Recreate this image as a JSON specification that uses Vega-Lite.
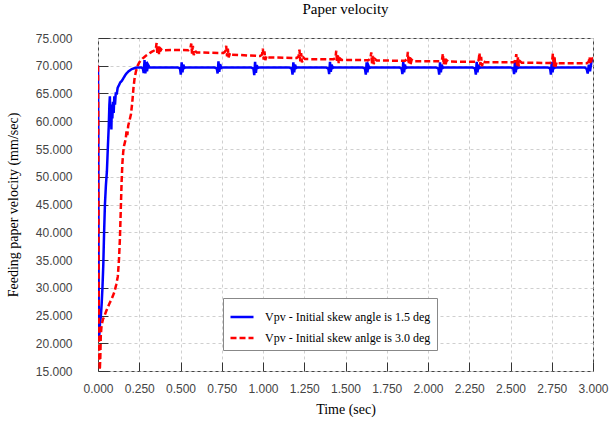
{
  "$schema": "https://vega.github.io/schema/vega-lite/v6.json",
  "width": 495,
  "height": 333,
  "autosize": {"type": "none"},
  "padding": {"left": 98, "top": 38, "right": 19, "bottom": 50},
  "background": "white",
  "title": {"text": "Paper velocity", "font": "Liberation Serif", "fontSize": 15, "fontWeight": "normal", "color": "black", "offset": 15},
  "config": {
    "view": {"stroke": "#444444", "strokeWidth": 1},
    "axis": {
      "domain": false,
      "grid": true,
      "gridColor": "#cfcfcf",
      "gridDash": [3, 3],
      "gridWidth": 1,
      "tickColor": "#333333",
      "tickWidth": 1,
      "labelFont": "Liberation Sans",
      "labelFontSize": 12,
      "labelColor": "#444444",
      "titleFont": "Liberation Serif",
      "titleFontSize": 14,
      "titleFontWeight": "normal",
      "titleColor": "black"
    },
    "legend": {
      "orient": "none",
      "legendX": 125,
      "legendY": 260,
      "fillColor": "white",
      "strokeColor": "#888888",
      "padding": 6,
      "rowPadding": 2,
      "symbolType": "stroke",
      "symbolSize": 529,
      "symbolStrokeWidth": 2.5,
      "labelFont": "Liberation Serif",
      "labelFontSize": 12,
      "labelColor": "black",
      "labelOffset": 10,
      "labelLimit": 0
    }
  },
  "data": {"values": [
    {"s":"a","t":0,"v":70},{"s":"a","t":0.002,"v":58},{"s":"a","t":0.003,"v":40},{"s":"a","t":0.005,"v":20.5},{"s":"a","t":0.008,"v":21.5},{"s":"a","t":0.012,"v":23.5},{"s":"a","t":0.017,"v":24.8},{"s":"a","t":0.022,"v":27},{"s":"a","t":0.027,"v":30},{"s":"a","t":0.032,"v":34},{"s":"a","t":0.037,"v":40},{"s":"a","t":0.042,"v":45},{"s":"a","t":0.048,"v":48.5},{"s":"a","t":0.054,"v":51},{"s":"a","t":0.06,"v":55.5},{"s":"a","t":0.065,"v":59},{"s":"a","t":0.069,"v":63},{"s":"a","t":0.072,"v":64.5},{"s":"a","t":0.075,"v":60},{"s":"a","t":0.078,"v":62.5},{"s":"a","t":0.081,"v":58.5},{"s":"a","t":0.084,"v":63},{"s":"a","t":0.087,"v":60.5},{"s":"a","t":0.091,"v":63.5},{"s":"a","t":0.095,"v":61.5},{"s":"a","t":0.099,"v":64.5},{"s":"a","t":0.103,"v":63},{"s":"a","t":0.108,"v":65.2},{"s":"a","t":0.113,"v":64.8},{"s":"a","t":0.119,"v":66},{"s":"a","t":0.127,"v":66.5},{"s":"a","t":0.135,"v":67},{"s":"a","t":0.145,"v":67.3},{"s":"a","t":0.155,"v":67.8},{"s":"a","t":0.165,"v":68.3},{"s":"a","t":0.175,"v":68.7},{"s":"a","t":0.185,"v":69.0},{"s":"a","t":0.195,"v":69.2},{"s":"a","t":0.205,"v":69.4},{"s":"a","t":0.215,"v":69.5},{"s":"a","t":0.23,"v":69.65},{"s":"a","t":0.25,"v":69.7},
    {"s":"a","t":0.262,"v":69.7},{"s":"a","t":0.272,"v":69.5},{"s":"a","t":0.277,"v":68.7},{"s":"a","t":0.282,"v":71.0},{"s":"a","t":0.287,"v":68.6},{"s":"a","t":0.292,"v":70.7},{"s":"a","t":0.297,"v":69.0},{"s":"a","t":0.303,"v":70.2},{"s":"a","t":0.312,"v":69.7},
    {"s":"a","t":0.482,"v":69.7},{"s":"a","t":0.497,"v":69.5},{"s":"a","t":0.502,"v":68.4},{"s":"a","t":0.507,"v":70.6},{"s":"a","t":0.512,"v":68.8},{"s":"a","t":0.517,"v":70.2},{"s":"a","t":0.524,"v":69.6},{"s":"a","t":0.532,"v":69.7},
    {"s":"a","t":0.705,"v":69.7},{"s":"a","t":0.72,"v":69.5},{"s":"a","t":0.725,"v":68.6},{"s":"a","t":0.73,"v":70.8},{"s":"a","t":0.735,"v":68.9},{"s":"a","t":0.74,"v":70.3},{"s":"a","t":0.747,"v":69.6},{"s":"a","t":0.755,"v":69.7},
    {"s":"a","t":0.927,"v":69.7},{"s":"a","t":0.942,"v":69.5},{"s":"a","t":0.947,"v":68.3},{"s":"a","t":0.952,"v":70.7},{"s":"a","t":0.957,"v":68.7},{"s":"a","t":0.962,"v":70.1},{"s":"a","t":0.969,"v":69.6},{"s":"a","t":0.977,"v":69.7},
    {"s":"a","t":1.159,"v":69.7},{"s":"a","t":1.174,"v":69.5},{"s":"a","t":1.179,"v":68.4},{"s":"a","t":1.184,"v":70.6},{"s":"a","t":1.189,"v":68.8},{"s":"a","t":1.194,"v":70.2},{"s":"a","t":1.201,"v":69.6},{"s":"a","t":1.209,"v":69.7},
    {"s":"a","t":1.381,"v":69.7},{"s":"a","t":1.396,"v":69.5},{"s":"a","t":1.401,"v":68.5},{"s":"a","t":1.406,"v":70.7},{"s":"a","t":1.411,"v":68.9},{"s":"a","t":1.416,"v":70.2},{"s":"a","t":1.423,"v":69.6},{"s":"a","t":1.431,"v":69.7},
    {"s":"a","t":1.603,"v":69.7},{"s":"a","t":1.618,"v":69.5},{"s":"a","t":1.623,"v":68.4},{"s":"a","t":1.628,"v":70.6},{"s":"a","t":1.633,"v":68.8},{"s":"a","t":1.638,"v":70.1},{"s":"a","t":1.645,"v":69.6},{"s":"a","t":1.653,"v":69.7},
    {"s":"a","t":1.825,"v":69.7},{"s":"a","t":1.84,"v":69.5},{"s":"a","t":1.845,"v":68.5},{"s":"a","t":1.85,"v":70.7},{"s":"a","t":1.855,"v":68.8},{"s":"a","t":1.86,"v":70.2},{"s":"a","t":1.867,"v":69.6},{"s":"a","t":1.875,"v":69.7},
    {"s":"a","t":2.048,"v":69.7},{"s":"a","t":2.063,"v":69.5},{"s":"a","t":2.068,"v":68.4},{"s":"a","t":2.073,"v":70.6},{"s":"a","t":2.078,"v":68.8},{"s":"a","t":2.083,"v":70.2},{"s":"a","t":2.09,"v":69.6},{"s":"a","t":2.098,"v":69.7},
    {"s":"a","t":2.27,"v":69.7},{"s":"a","t":2.285,"v":69.5},{"s":"a","t":2.29,"v":68.4},{"s":"a","t":2.295,"v":70.7},{"s":"a","t":2.3,"v":68.8},{"s":"a","t":2.305,"v":70.2},{"s":"a","t":2.312,"v":69.6},{"s":"a","t":2.32,"v":69.7},
    {"s":"a","t":2.502,"v":69.7},{"s":"a","t":2.517,"v":69.5},{"s":"a","t":2.522,"v":68.5},{"s":"a","t":2.527,"v":70.8},{"s":"a","t":2.532,"v":68.8},{"s":"a","t":2.537,"v":70.2},{"s":"a","t":2.544,"v":69.6},{"s":"a","t":2.552,"v":69.7},
    {"s":"a","t":2.725,"v":69.7},{"s":"a","t":2.74,"v":69.5},{"s":"a","t":2.745,"v":68.4},{"s":"a","t":2.75,"v":70.7},{"s":"a","t":2.755,"v":68.8},{"s":"a","t":2.76,"v":70.2},{"s":"a","t":2.767,"v":69.6},{"s":"a","t":2.775,"v":69.7},
    {"s":"a","t":2.95,"v":69.7},{"s":"a","t":2.962,"v":69.4},{"s":"a","t":2.968,"v":68.6},{"s":"a","t":2.975,"v":70.2},{"s":"a","t":2.982,"v":69.0},{"s":"a","t":2.991,"v":70.8},{"s":"a","t":3.0,"v":71.2},
    {"s":"b","t":0,"v":70},{"s":"b","t":0.002,"v":50},{"s":"b","t":0.004,"v":30},{"s":"b","t":0.006,"v":21},{"s":"b","t":0.008,"v":17},{"s":"b","t":0.011,"v":15.2},{"s":"b","t":0.014,"v":17.5},{"s":"b","t":0.017,"v":21.5},{"s":"b","t":0.022,"v":23.3},{"s":"b","t":0.03,"v":24.3},{"s":"b","t":0.04,"v":25},{"s":"b","t":0.05,"v":25.8},{"s":"b","t":0.06,"v":26.5},{"s":"b","t":0.07,"v":27.2},{"s":"b","t":0.08,"v":27.8},{"s":"b","t":0.09,"v":28.5},{"s":"b","t":0.1,"v":29.3},{"s":"b","t":0.11,"v":30.5},{"s":"b","t":0.12,"v":32},{"s":"b","t":0.127,"v":35},{"s":"b","t":0.133,"v":39},{"s":"b","t":0.138,"v":44},{"s":"b","t":0.143,"v":49},{"s":"b","t":0.148,"v":52.5},{"s":"b","t":0.153,"v":54.5},{"s":"b","t":0.158,"v":55.6},{"s":"b","t":0.163,"v":56.2},{"s":"b","t":0.168,"v":56.8},{"s":"b","t":0.173,"v":58.3},{"s":"b","t":0.178,"v":57.5},{"s":"b","t":0.183,"v":59.2},{"s":"b","t":0.19,"v":60},{"s":"b","t":0.2,"v":61.3},{"s":"b","t":0.208,"v":63.5},{"s":"b","t":0.215,"v":66},{"s":"b","t":0.222,"v":67.8},{"s":"b","t":0.23,"v":69},{"s":"b","t":0.24,"v":70},{"s":"b","t":0.25,"v":70.6},{"s":"b","t":0.27,"v":71.3},{"s":"b","t":0.29,"v":71.8},{"s":"b","t":0.31,"v":72.2},{"s":"b","t":0.325,"v":72.5},{"s":"b","t":0.338,"v":72.7},
    {"s":"b","t":0.35,"v":72.9},{"s":"b","t":0.355,"v":74.1},{"s":"b","t":0.36,"v":72.1},{"s":"b","t":0.365,"v":73.6},{"s":"b","t":0.37,"v":72.0},{"s":"b","t":0.378,"v":73.1},{"s":"b","t":0.388,"v":72.8},{"s":"b","t":0.45,"v":72.85},
    {"s":"b","t":0.548,"v":72.8},{"s":"b","t":0.56,"v":73.1},{"s":"b","t":0.565,"v":74.0},{"s":"b","t":0.57,"v":72.2},{"s":"b","t":0.575,"v":73.6},{"s":"b","t":0.58,"v":71.9},{"s":"b","t":0.588,"v":72.7},{"s":"b","t":0.598,"v":72.4},
    {"s":"b","t":0.76,"v":72.3},{"s":"b","t":0.772,"v":72.6},{"s":"b","t":0.777,"v":73.6},{"s":"b","t":0.782,"v":71.7},{"s":"b","t":0.787,"v":73.1},{"s":"b","t":0.792,"v":71.5},{"s":"b","t":0.8,"v":72.3},{"s":"b","t":0.81,"v":72.0},
    {"s":"b","t":0.982,"v":71.75},{"s":"b","t":0.994,"v":72.0},{"s":"b","t":0.999,"v":73.1},{"s":"b","t":1.004,"v":71.1},{"s":"b","t":1.009,"v":72.6},{"s":"b","t":1.014,"v":71.0},{"s":"b","t":1.022,"v":71.8},{"s":"b","t":1.032,"v":71.5},
    {"s":"b","t":1.204,"v":71.4},{"s":"b","t":1.216,"v":71.7},{"s":"b","t":1.221,"v":72.9},{"s":"b","t":1.226,"v":70.8},{"s":"b","t":1.231,"v":72.3},{"s":"b","t":1.236,"v":70.6},{"s":"b","t":1.244,"v":71.5},{"s":"b","t":1.254,"v":71.2},
    {"s":"b","t":1.427,"v":71.15},{"s":"b","t":1.439,"v":71.4},{"s":"b","t":1.444,"v":72.7},{"s":"b","t":1.449,"v":70.6},{"s":"b","t":1.454,"v":72.0},{"s":"b","t":1.459,"v":70.4},{"s":"b","t":1.467,"v":71.3},{"s":"b","t":1.477,"v":71.05},
    {"s":"b","t":1.639,"v":71.0},{"s":"b","t":1.651,"v":71.3},{"s":"b","t":1.656,"v":72.4},{"s":"b","t":1.661,"v":70.4},{"s":"b","t":1.666,"v":71.8},{"s":"b","t":1.671,"v":70.3},{"s":"b","t":1.679,"v":71.2},{"s":"b","t":1.689,"v":70.95},
    {"s":"b","t":1.861,"v":70.9},{"s":"b","t":1.873,"v":71.2},{"s":"b","t":1.878,"v":72.5},{"s":"b","t":1.883,"v":70.3},{"s":"b","t":1.888,"v":71.8},{"s":"b","t":1.893,"v":70.1},{"s":"b","t":1.901,"v":71.1},{"s":"b","t":1.911,"v":70.8},
    {"s":"b","t":2.073,"v":70.8},{"s":"b","t":2.085,"v":71.1},{"s":"b","t":2.09,"v":72.2},{"s":"b","t":2.095,"v":70.2},{"s":"b","t":2.1,"v":71.6},{"s":"b","t":2.105,"v":70.0},{"s":"b","t":2.113,"v":71.0},{"s":"b","t":2.123,"v":70.75},
    {"s":"b","t":2.295,"v":70.7},{"s":"b","t":2.307,"v":71.0},{"s":"b","t":2.312,"v":72.3},{"s":"b","t":2.317,"v":70.1},{"s":"b","t":2.322,"v":71.6},{"s":"b","t":2.327,"v":69.9},{"s":"b","t":2.335,"v":70.9},{"s":"b","t":2.345,"v":70.65},
    {"s":"b","t":2.518,"v":70.65},{"s":"b","t":2.53,"v":70.9},{"s":"b","t":2.535,"v":72.1},{"s":"b","t":2.54,"v":70.0},{"s":"b","t":2.545,"v":71.5},{"s":"b","t":2.55,"v":69.9},{"s":"b","t":2.558,"v":70.8},{"s":"b","t":2.568,"v":70.55},
    {"s":"b","t":2.74,"v":70.5},{"s":"b","t":2.752,"v":70.8},{"s":"b","t":2.757,"v":72.2},{"s":"b","t":2.762,"v":69.9},{"s":"b","t":2.767,"v":71.5},{"s":"b","t":2.772,"v":69.8},{"s":"b","t":2.78,"v":70.7},{"s":"b","t":2.79,"v":70.45},
    {"s":"b","t":2.962,"v":70.45},{"s":"b","t":2.974,"v":70.7},{"s":"b","t":2.979,"v":71.6},{"s":"b","t":2.985,"v":70.3},{"s":"b","t":2.992,"v":71.2},{"s":"b","t":3.0,"v":71.5}
  ]},
  "mark": {"type": "line", "strokeWidth": 2.5, "clip": true},
  "encoding": {
    "x": {
      "field": "t", "type": "quantitative", "title": "Time (sec)",
      "scale": {"domain": [0, 3], "nice": false, "zero": false},
      "axis": {"values": [0, 0.25, 0.5, 0.75, 1, 1.25, 1.5, 1.75, 2, 2.25, 2.5, 2.75, 3], "format": ".3f", "tickSize": -9, "labelPadding": 21, "titlePadding": 8, "labelFlush": false}
    },
    "y": {
      "field": "v", "type": "quantitative", "title": "Feeding paper velocity (mm/sec)",
      "scale": {"domain": [15, 75], "nice": false, "zero": false},
      "axis": {"values": [15, 20, 25, 30, 35, 40, 45, 50, 55, 60, 65, 70, 75], "format": ".3f", "tickSize": -10, "labelPadding": 36, "titlePadding": 15, "labelFlush": false}
    },
    "color": {
      "field": "s", "type": "nominal",
      "scale": {"domain": ["a", "b"], "range": ["#0000ff", "#ff0000"]},
      "legend": {"title": null, "labelExpr": "datum.label == 'a' ? 'Vpv - Initial skew angle is 1.5 deg' : 'Vpv - Initial skew anlge is 3.0 deg'"}
    },
    "strokeDash": {
      "field": "s", "type": "nominal",
      "scale": {"domain": ["a", "b"], "range": [[1, 0], [6, 3]]},
      "legend": {"title": null, "labelExpr": "datum.label == 'a' ? 'Vpv - Initial skew angle is 1.5 deg' : 'Vpv - Initial skew anlge is 3.0 deg'"}
    }
  }
}
